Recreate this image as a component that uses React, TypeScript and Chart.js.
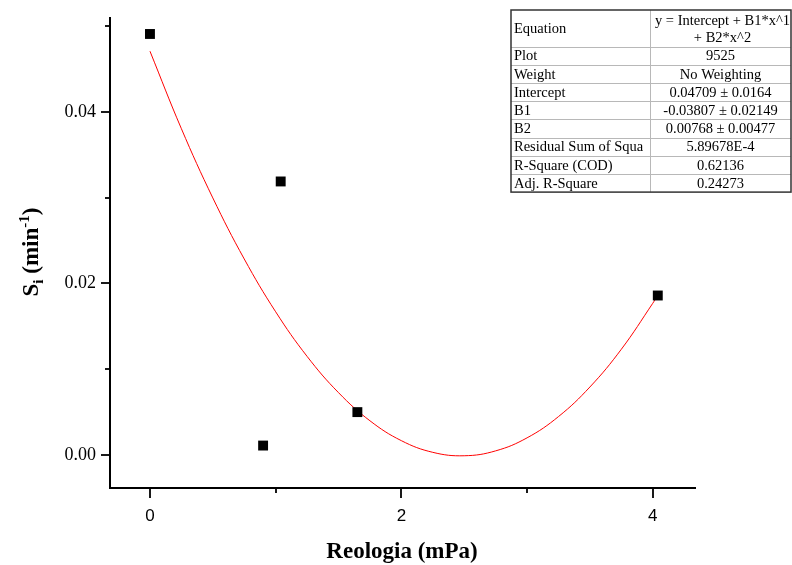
import React, { useEffect, useRef } from 'react';
import { Chart, registerables } from 'chart.js';

Chart.register(...registerables);

// Measured data (Reologia vs Si)
const reologia = [0, 0.9, 1.04, 1.65, 4.04];
const si = [0.0491, 0.0011, 0.0319, 0.005, 0.0186];

// Fitted polynomial curve points (as shown in the reference)
const fitX = [0, 0.25, 0.5, 0.75, 1.0, 1.25, 1.5, 1.75, 2.0, 2.25, 2.5, 2.75, 3.0, 3.25, 3.5, 3.75, 4.0, 4.04];
const fitY = [0.04709, 0.03805, 0.02998, 0.02286, 0.0167, 0.0115, 0.00727, 0.00399, 0.00167, 0.00031, -0.00009, 0.00048, 0.002, 0.00448, 0.00793, 0.01233, 0.01769, 0.01864];

const xTickLabels = ['0', '2', '4'];
const yTickLabels = ['0.00', '0.02', '0.04'];

const tableLabels = ['Equation', 'Plot', 'Weight', 'Intercept', 'B1', 'B2', 'Residual Sum of Squa', 'R-Square (COD)', 'Adj. R-Square'];
const tableValues = [
  ['y = Intercept + B1*x^1', '+ B2*x^2'],
  ['9525'],
  ['No Weighting'],
  ['0.04709 \u00B1 0.0164'],
  ['-0.03807 \u00B1 0.02149'],
  ['0.00768 \u00B1 0.00477'],
  ['5.89678E-4'],
  ['0.62136'],
  ['0.24273'],
];

const xTitle = 'Reologia (mPa)';

function findLabel(labels: string[], v: number): string {
  for (const l of labels) {
    if (Math.abs(parseFloat(l) - v) < 1e-9) return l;
  }
  return '';
}

const decorPlugin = {
  id: 'decor',
  afterDraw(chart: any) {
    const ctx: CanvasRenderingContext2D = chart.ctx;
    const area = chart.chartArea;
    const xs = chart.scales.x;
    const ys = chart.scales.y;
    ctx.save();
    ctx.strokeStyle = '#000';
    ctx.lineWidth = 2;
    // axis lines
    ctx.beginPath();
    ctx.moveTo(area.left, area.top);
    ctx.lineTo(area.left, area.bottom);
    ctx.lineTo(area.right, area.bottom);
    ctx.stroke();
    // ticks
    ctx.lineWidth = 1.8;
    ys.ticks.forEach((t: any) => {
      const p = Math.round(ys.getPixelForValue(t.value));
      const major = findLabel(yTickLabels, t.value) !== '';
      const len = major ? 9 : 5;
      ctx.beginPath();
      ctx.moveTo(area.left - len, p);
      ctx.lineTo(area.left, p);
      ctx.stroke();
    });
    xs.ticks.forEach((t: any) => {
      const p = Math.round(xs.getPixelForValue(t.value));
      const major = findLabel(xTickLabels, t.value) !== '';
      const len = major ? 10 : 5;
      ctx.beginPath();
      ctx.moveTo(p, area.bottom);
      ctx.lineTo(p, area.bottom + len);
      ctx.stroke();
    });

    // x title
    ctx.fillStyle = '#000';
    ctx.font = 'bold 23px "Liberation Serif"';
    ctx.textAlign = 'center';
    ctx.textBaseline = 'alphabetic';
    ctx.fillText(xTitle, 402, 558);

    // y title with sub/superscript
    const big = 'bold 23px "Liberation Serif"';
    const small = 'bold 15px "Liberation Serif"';
    const parts = [
      { t: 'S', f: big, dy: 0 },
      { t: 'i', f: small, dy: 5 },
      { t: ' (min', f: big, dy: 0 },
      { t: '-1', f: small, dy: -9 },
      { t: ')', f: big, dy: 0 },
    ];
    let total = 0;
    parts.forEach((p) => {
      ctx.font = p.f;
      total += ctx.measureText(p.t).width;
    });
    ctx.translate(38, 252);
    ctx.rotate(-Math.PI / 2);
    ctx.textAlign = 'left';
    let cx = -total / 2;
    parts.forEach((p) => {
      ctx.font = p.f;
      ctx.fillText(p.t, cx, p.dy);
      cx += ctx.measureText(p.t).width;
    });
    ctx.setTransform(1, 0, 0, 1, 0, 0);

    // table
    const x0 = 511;
    const x1 = 791;
    const xm = 650;
    const y0 = 10;
    const rowH = 18.2;
    const eqH = 36.5;
    const heights = tableLabels.map((_, i) => (i === 0 ? eqH : rowH));
    const yEnd = y0 + heights.reduce((a, b) => a + b, 0);
    ctx.fillStyle = '#fff';
    ctx.fillRect(x0, y0, x1 - x0, yEnd - y0);
    ctx.strokeStyle = '#b8b8b8';
    ctx.lineWidth = 1;
    let yy = y0;
    heights.forEach((h, i) => {
      yy += h;
      if (i < heights.length - 1) {
        ctx.beginPath();
        ctx.moveTo(x0, Math.round(yy) + 0.5);
        ctx.lineTo(x1, Math.round(yy) + 0.5);
        ctx.stroke();
      }
    });
    ctx.beginPath();
    ctx.moveTo(xm + 0.5, y0);
    ctx.lineTo(xm + 0.5, yEnd);
    ctx.stroke();
    ctx.strokeStyle = '#333';
    ctx.lineWidth = 1.5;
    ctx.strokeRect(x0, y0, x1 - x0, yEnd - y0);
    ctx.fillStyle = '#000';
    ctx.font = '14.5px "Liberation Serif"';
    ctx.textBaseline = 'middle';
    yy = y0;
    tableLabels.forEach((lab, i) => {
      const h = heights[i];
      const cy = yy + h / 2;
      ctx.textAlign = 'left';
      ctx.fillText(lab, x0 + 3, cy + 1);
      ctx.textAlign = 'center';
      const vals = tableValues[i];
      if (vals.length === 1) {
        ctx.fillText(vals[0], (xm + x1) / 2, cy + 1);
      } else {
        const lh = 17;
        vals.forEach((v, k) => {
          ctx.fillText(v, (xm + x1) / 2 + 2, cy + 1 + (k - (vals.length - 1) / 2) * lh);
        });
      }
      yy += h;
    });
    ctx.restore();
  },
};

export default function App() {
  const ref = useRef<HTMLCanvasElement | null>(null);
  useEffect(() => {
    if (!ref.current) return;
    const chart = new Chart(ref.current, {
      type: 'scatter',
      data: {
        datasets: [
          {
            label: 'Data',
            data: reologia.map((x, i) => ({ x, y: si[i] })),
            pointStyle: 'rect',
            pointRadius: 7,
            pointHoverRadius: 7,
            backgroundColor: '#000',
            borderColor: '#000',
            borderWidth: 0,
            showLine: false,
          },
          {
            label: 'Fit',
            data: fitX.map((x, i) => ({ x, y: fitY[i] })),
            showLine: true,
            pointRadius: 0,
            borderColor: '#ff0000',
            borderWidth: 1,
            tension: 0.4,
            fill: false,
          },
        ],
      },
      options: {
        responsive: false,
        animation: false,
        devicePixelRatio: 1,
        layout: { padding: { left: 0, right: 96, top: 17, bottom: 0 } },
        plugins: { legend: { display: false }, tooltip: { enabled: false } },
        scales: {
          x: {
            type: 'linear',
            min: -0.318,
            max: 4.344,
            grid: { display: false, drawTicks: false },
            border: { display: false },
            ticks: {
              stepSize: 1,
              includeBounds: false,
              autoSkip: false,
              maxRotation: 0,
              padding: 18,
              color: '#000',
              font: { family: '"Liberation Sans"', size: 17 },
              callback: (v: any) => findLabel(xTickLabels, Number(v)),
            },
            afterFit: (s: any) => {
              s.height = 77;
              s.paddingLeft = 0;
              s.paddingRight = 0;
              s.paddingTop = 0;
              s.paddingBottom = 0;
            },
          },
          y: {
            type: 'linear',
            min: -0.00385,
            max: 0.05108,
            grid: { display: false, drawTicks: false },
            border: { display: false },
            ticks: {
              stepSize: 0.01,
              includeBounds: false,
              autoSkip: false,
              padding: 14,
              color: '#000',
              font: { family: '"Liberation Serif"', size: 18 },
              callback: (v: any) => findLabel(yTickLabels, Number(v)),
            },
            afterFit: (s: any) => {
              s.width = 110;
              s.paddingLeft = 0;
              s.paddingRight = 0;
              s.paddingTop = 0;
              s.paddingBottom = 0;
            },
          },
        },
      },
      plugins: [decorPlugin],
    });
    return () => chart.destroy();
  }, []);
  return (
    <div style={{ position: 'absolute', left: 0, top: 0, width: 792, height: 565, background: '#fff' }}>
      <canvas ref={ref} width={792} height={565} style={{ width: 792, height: 565, display: 'block' }} />
    </div>
  );
}
